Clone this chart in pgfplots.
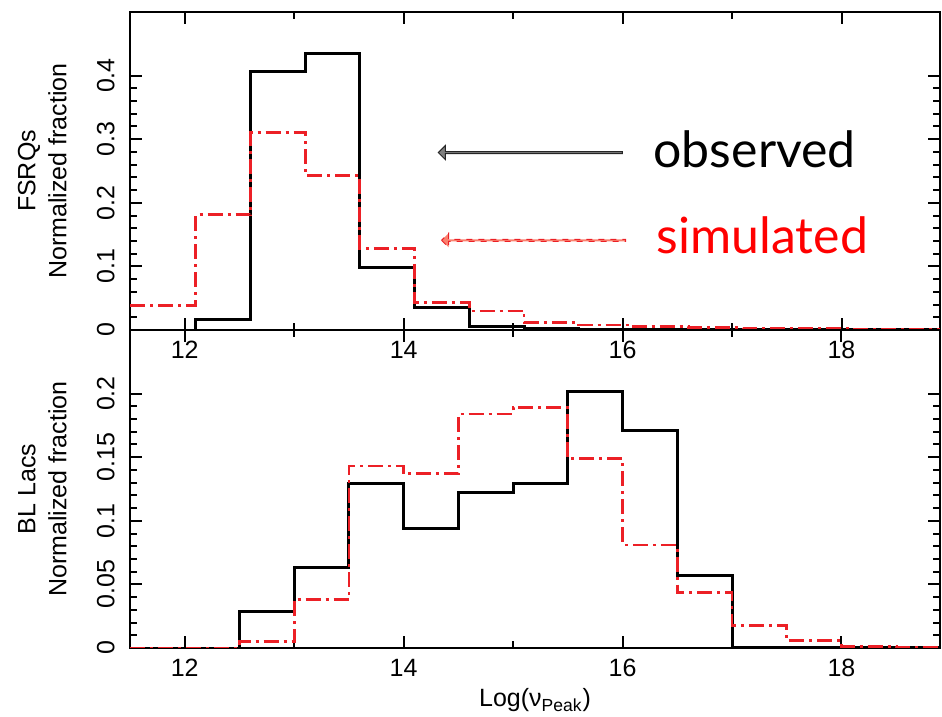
\documentclass[border=0pt]{standalone}
\usepackage{fontspec}
\setmainfont{Liberation Sans}
\newfontfamily\annotfont{Lato}
\usepackage{pgfplots}
\usepackage{pgfplotstable}
\pgfplotsset{compat=1.18}
\usetikzlibrary{calc,shapes.arrows}
\definecolor{simred}{RGB}{236,32,38}
\definecolor{salmon}{RGB}{250,128,110}

\pgfplotstableread{
x y
12.1 0
12.1 0.017
12.6 0.407
13.1 0.434
13.6 0.098
14.1 0.035
14.6 0.005
15.1 0.003
15.6 0
18.9 0
}\tabTopObs

\pgfplotstableread{
x y
11.5 0.039
12.1 0.181
12.6 0.310
13.1 0.243
13.6 0.128
14.1 0.043
14.6 0.030
15.1 0.0115
15.6 0.008
16.1 0.005
16.6 0.004
17.1 0.002
17.6 0.002
18.1 0.001
18.6 0.001
18.9 0.001
}\tabTopSim

\pgfplotstableread{
x y
12.5 0
12.5 0.029
13.0 0.063
13.5 0.129
14.0 0.094
14.5 0.122
15.0 0.129
15.5 0.202
16.0 0.171
16.5 0.057
17.0 0
18.9 0
}\tabBotObs

\pgfplotstableread{
x y
11.5 0
12.5 0.005
13.0 0.038
13.5 0.143
14.0 0.137
14.5 0.184
15.0 0.189
15.5 0.149
16.0 0.081
16.5 0.0435
17.0 0.018
17.5 0.0057
18.0 0.0013
18.5 0.0005
18.9 0.0005
}\tabBotSim

\pgfplotsset{
  myaxis/.style={
    scale only axis, width=405pt, height=159pt,
    xmin=11.5, xmax=18.9, ymin=0,
    axis line style={line width=1.2pt},
    tick style={black, line width=1pt},
    major tick length=6pt, minor tick length=3.5pt,
    xtick={12,14,16,18}, minor xtick={13,15,17},
    minor y tick num=4,
    scaled y ticks=false,
    tick label style={font=\fontsize{12.5}{15}\selectfont},
    /pgf/number format/assume math mode=true,
    yticklabel style={rotate=90, anchor=south, inner sep=0pt, /pgf/number format/fixed, /pgf/number format/precision=2},
    yticklabel shift=7.5pt,
    xticklabel style={anchor=north, inner sep=0pt},
    xticklabel shift=5.5pt,
    every axis y label/.style={at={($(axis description cs:0,0.5)+(-31.5pt,0)$)}, rotate=90, anchor=south, align=center, inner sep=0pt, font=\fontsize{12.5}{15.5}\selectfont},
    every axis x label/.style={at={($(axis description cs:0.5,0)+(0,-29.5pt)$)}, anchor=base, inner sep=0pt, font=\fontsize{12.5}{15.5}\selectfont},
  },
  obsline/.style={black, line width=1.5pt, const plot mark left},
  simline/.style={simred, line width=1.4pt, const plot mark left, dash pattern=on 7.5pt off 2.5pt on 1.5pt off 2.5pt},
}

\begin{document}
\begin{tikzpicture}
\begin{axis}[myaxis, name=upperax, ymax=0.5,
  ytick={0,0.1,0.2,0.3,0.4},
  xticklabel={},
  ylabel={FSRQs\\Normalized fraction}]
\addplot[obsline] table[x=x,y=y] {\tabTopObs};
\addplot[simline] table[x=x,y=y] {\tabTopSim};
\node[single arrow, draw=black!85, fill=gray, line width=0.5pt,
      minimum height=92pt, minimum width=7pt, single arrow head extend=1.5pt,
      inner sep=0pt, shape border rotate=180, anchor=tip]
      at (axis cs:14.31,0.279) {};
\node[single arrow, draw=simred, dashed, fill=salmon, line width=0.5pt,
      minimum height=92pt, minimum width=7pt, single arrow head extend=1.5pt,
      inner sep=0pt, shape border rotate=180, anchor=tip]
      at (axis cs:14.34,0.141) {};
\node[anchor=base west, inner sep=0pt, font=\annotfont\fontsize{25}{30}\selectfont] at (axis cs:16.28,0.256) {observed};
\node[anchor=base west, inner sep=0pt, text=red, font=\annotfont\fontsize{25}{30}\selectfont] at (axis cs:16.31,0.121) {simulated};
\end{axis}
\begin{axis}[myaxis, name=lowerax, at={(upperax.south west)}, anchor=north west, ymax=0.25,
  ytick={0,0.05,0.1,0.15,0.2},
  xlabel={Log(ν\textsubscript{Peak})},
  ylabel={BL Lacs\\Normalized fraction}]
\addplot[obsline] table[x=x,y=y] {\tabBotObs};
\addplot[simline] table[x=x,y=y] {\tabBotSim};
\end{axis}
\path ($(lowerax.south west)+(-65pt,-34.5pt)$) rectangle ($(upperax.north east)+(1pt,6pt)$);
\end{tikzpicture}
\end{document}
